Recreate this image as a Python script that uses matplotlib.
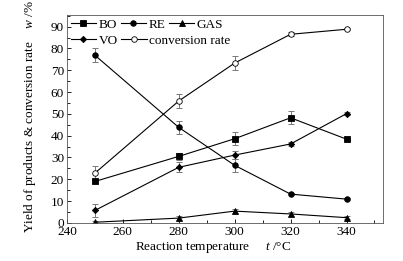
import numpy as np
from matplotlib import pyplot as plt
from matplotlib.ticker import MultipleLocator

plt.rcParams['font.family'] = ['Liberation Serif', 'DejaVu Serif']
plt.rcParams['mathtext.fontset'] = 'custom'
plt.rcParams['mathtext.it'] = 'Liberation Serif:italic'
plt.rcParams['mathtext.rm'] = 'Liberation Serif'

temps = [250, 280, 300, 320, 340]

bo = [19.0, 30.5, 38.6, 48.2, 38.4]
bo_err = [0.8, 1.5, 3.0, 3.0, 0.6]
re = [76.9, 43.8, 26.4, 13.2, 10.9]
re_err = [3.2, 3.0, 3.0, 0.6, 0.5]
gas = [0.3, 2.2, 5.4, 4.1, 2.4]
gas_err = [0.5, 0.8, 1.0, 0.8, 0.6]
vo = [5.7, 25.5, 31.1, 36.2, 50.1]
vo_err = [3.0, 2.3, 2.0, 0.8, 0.6]
conv = [22.8, 55.9, 73.3, 86.5, 88.8]
conv_err = [3.2, 3.0, 3.2, 1.0, 0.5]

fig = plt.figure(figsize=(4.03, 2.61), dpi=100)
ax = fig.add_axes([0.166, 0.146, 0.784, 0.797])

series = [
    (bo, bo_err, 's', 'k', 'BO'),
    (re, re_err, 'o', 'k', 'RE'),
    (gas, gas_err, '^', 'k', 'GAS'),
    (vo, vo_err, 'D', 'k', 'VO'),
    (conv, conv_err, 'o', 'w', 'conversion rate'),
]
handles = []
for vals, err, mk, fc, lab in series:
    ax.errorbar(temps, vals, yerr=err, fmt='none', ecolor='#777777',
                elinewidth=0.7, capsize=2.5, capthick=0.7, zorder=1)
    ms = 3.2 if mk == 'D' else 4
    h, = ax.plot(temps, vals, color='k', lw=0.8, marker=mk, ms=ms,
                 mfc=fc, mec='k', mew=0.6, label=lab, zorder=2)
    handles.append(h)

ax.set_xlim(240, 353)
ax.set_ylim(0, 95.4)
ax.xaxis.set_major_locator(MultipleLocator(20))
ax.xaxis.set_minor_locator(MultipleLocator(10))
ax.yaxis.set_major_locator(MultipleLocator(10))
ax.yaxis.set_minor_locator(MultipleLocator(5))
ax.tick_params(which='both', direction='in', labelsize=9.5, pad=2)
ax.tick_params(which='major', length=3, width=0.6)
ax.tick_params(which='minor', length=2, width=0.6)
for s in ax.spines.values():
    s.set_linewidth(0.6)
    s.set_color('#555555')

ax.set_xlabel('Reaction temperature     $t$ /\u00b0C', fontsize=9.5)
ax.xaxis.set_label_coords(0.464, -0.08)
ax.set_ylabel('Yield of products & conversion rate    $w$ /%', fontsize=9.5)
ax.yaxis.set_label_coords(-0.09, 0.51)

leg_kw = dict(frameon=False, fontsize=9.5, handlelength=1.9, handletextpad=0.2,
              columnspacing=0.3, borderpad=0, borderaxespad=0, loc='center left')
leg1 = ax.legend(handles=handles[:3], ncol=3, bbox_to_anchor=(0.012, 0.952), **leg_kw)
ax.add_artist(leg1)
ax.legend(handles=handles[3:], ncol=2, bbox_to_anchor=(0.012, 0.876), **leg_kw)

fig.savefig('out.png', dpi=100)
